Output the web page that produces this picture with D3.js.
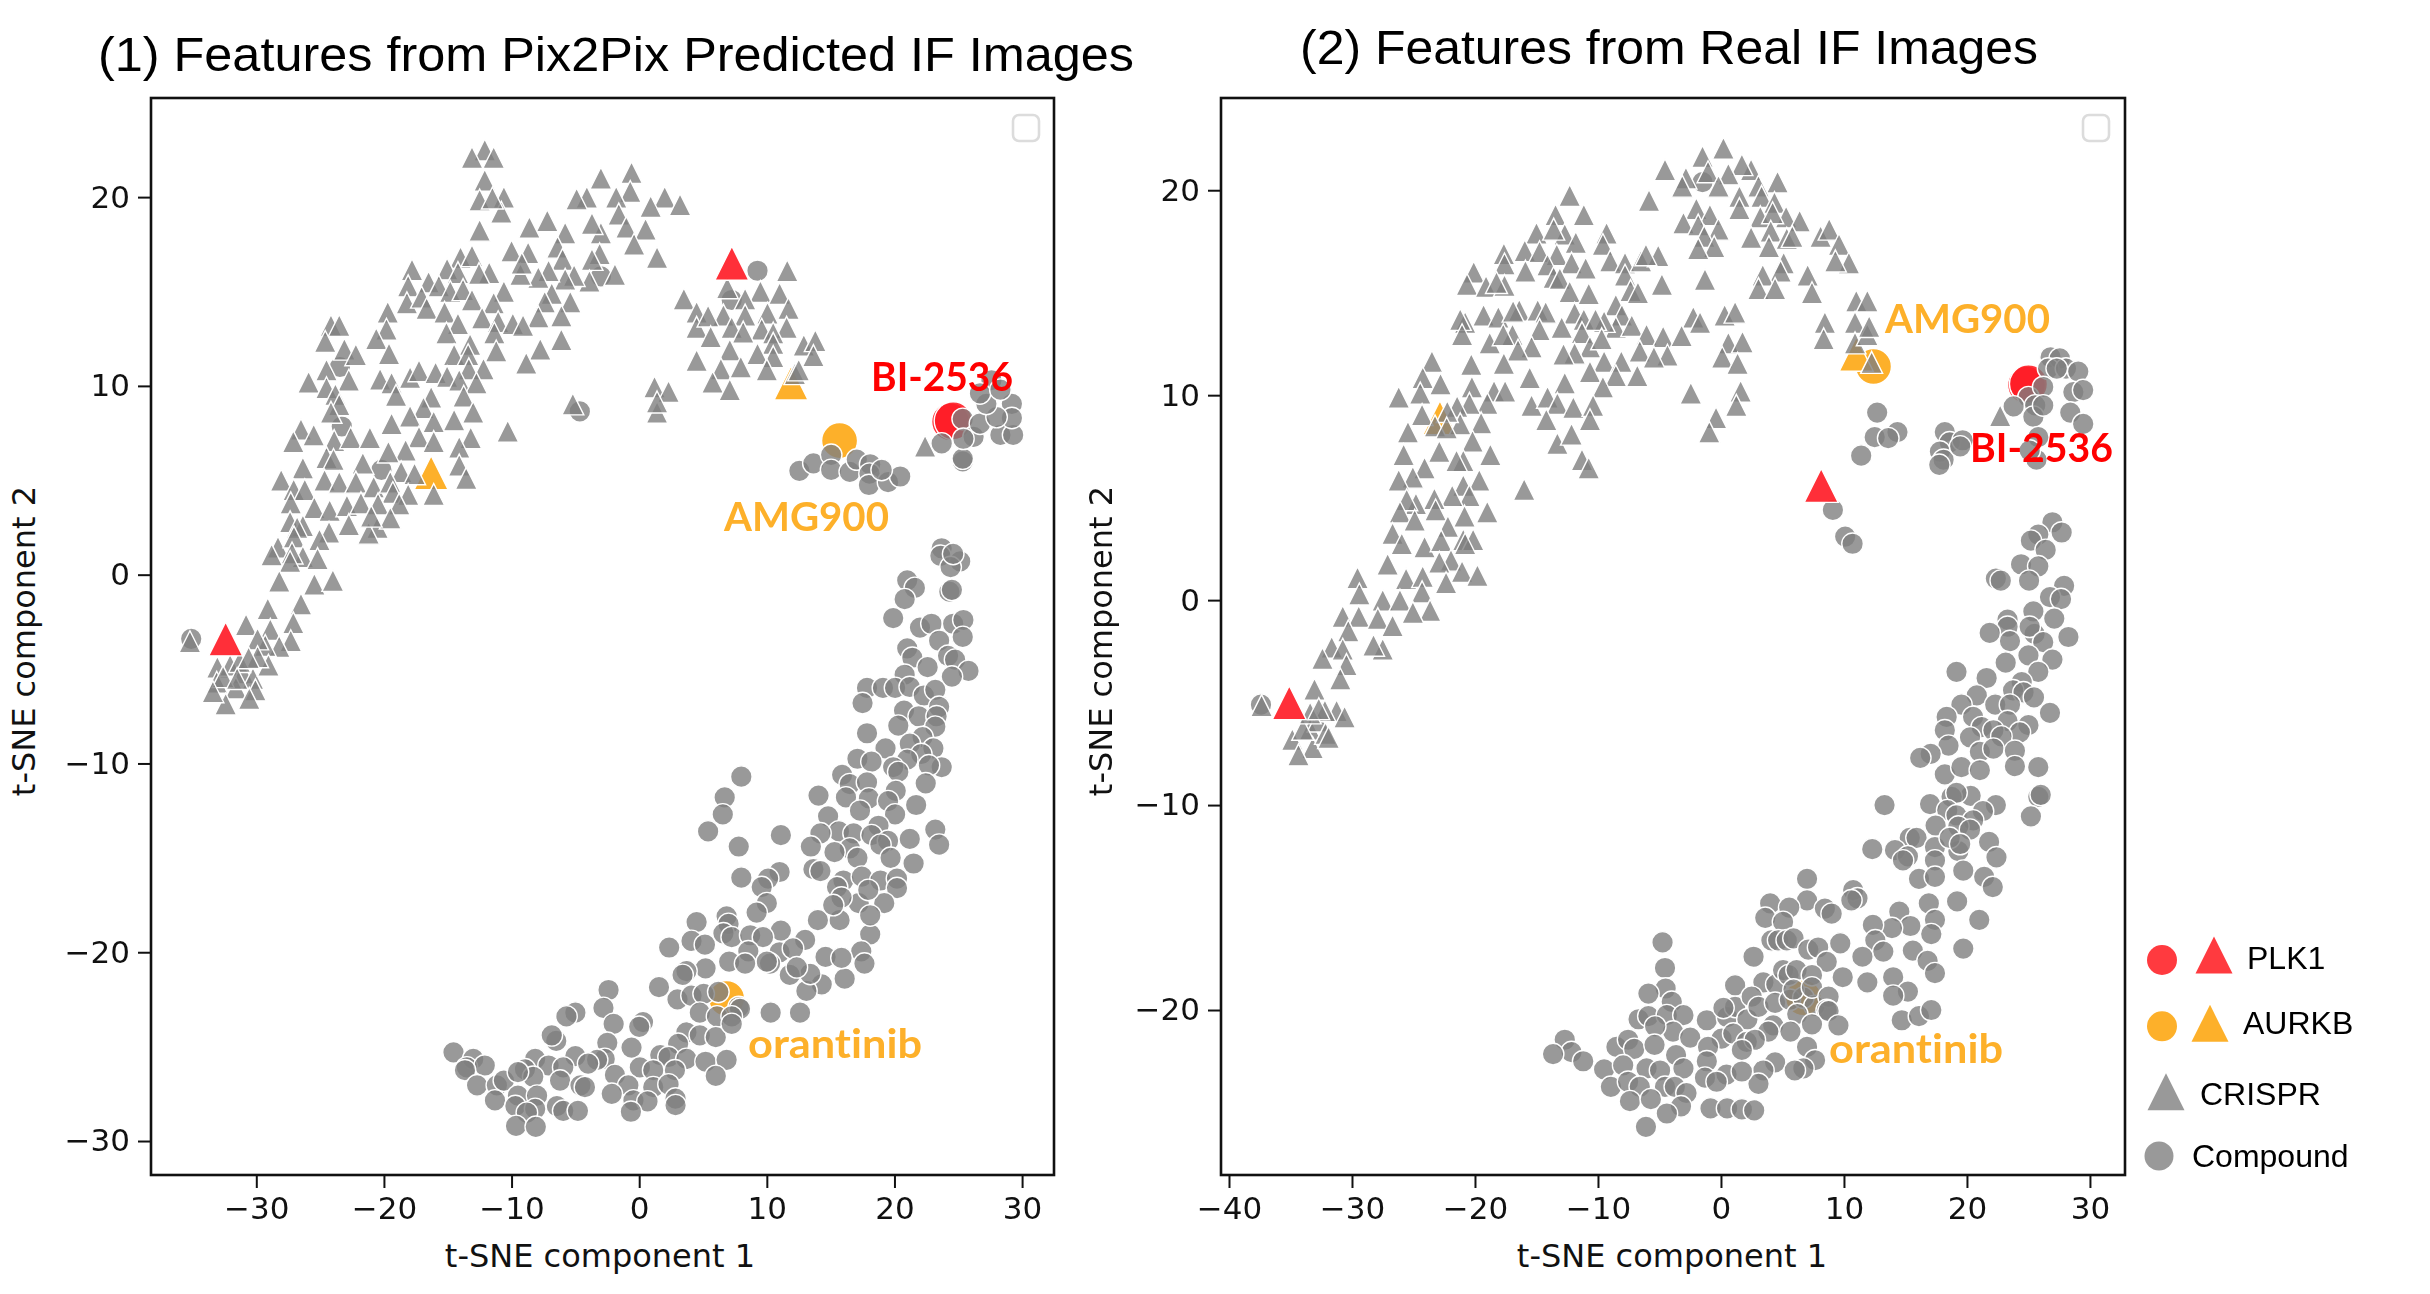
<!DOCTYPE html>
<html>
<head>
<meta charset="utf-8">
<script src="https://d3js.org/d3.v7.min.js"></script>
<style>
  html, body { margin: 0; padding: 0; background: #fff; }
  svg { display: block; }
  .tick text { font-family: "DejaVu Sans"; font-size: 31px; fill: #111; }
  .axis-label { font-family: "DejaVu Sans"; font-size: 32px; fill: #111; }
  .title { font-family: "Liberation Sans"; font-size: 48px; fill: #000; }
  .note { font-family: Lato, "Open Sans"; font-weight: 700; font-size: 40px; font-variant-ligatures: none; }
  .key { font-family: "Liberation Sans"; font-size: 32px; fill: #000; }
</style>
</head>
<body>
<svg id="chart" width="2430" height="1294"></svg>
<script>
// (1) predicted IF images
const predCrispr = [[-12.1,22.5],[-13.1,22.1],[-11.4,22.1],[-12.1,20.9],[-12.5,19.85],[-10.6,20.0],[-10.8,19.2],[-12.5,18.25],[-11.5,19.95],
[-3.0,21.0],[-0.6,21.3],[-4.1,20.0],[-4.9,19.9],[-0.7,20.3],[-1.8,20.0],[2.0,20.0],[3.2,19.6],[0.9,19.5],[-1.6,19.1],[-1.0,18.4],[0.5,18.3],[-3.0,18.1],[-3.7,18.6],[-5.8,18.1],[-7.2,18.75],[-8.6,18.4],[-6.4,17.35],[-0.4,17.5],[-3.1,17.0],[1.4,16.8],[-3.7,16.7],[-6.0,16.7],[-10.0,17.15],[-8.7,17.05],[-1.9,15.9],[-3.9,15.55],[-5.1,15.85],[-5.8,15.65],[-7.1,16.1],[-7.9,15.75],[-9.3,15.9],[-9.2,16.5],
[-17.8,16.15],[-18.1,15.3],[-14.0,16.8],[-13.1,16.9],[-15.05,16.2],[-14.2,16.0],[-11.75,16.0],[-12.55,15.95],[-16.5,15.5],[-15.7,15.3],[-14.8,15.0],[-13.8,15.1],[-10.6,15.0],[-6.85,14.9],[-5.4,14.45],[-7.4,14.45],[-18.2,14.4],[-17.05,14.7],[-16.65,14.1],[-15.25,13.9],[-13.1,14.55],[-11.4,14.4],[-7.9,13.65],[-6.1,13.7],[-12.3,13.6],[-14.2,13.3],[-15.1,12.8],[-19.7,13.9],[-19.8,13.0],[-20.6,12.5],[-11.05,13.4],[-11.35,12.8],[-9.9,13.3],[-9.1,13.2],[-13.25,12.2],[-14.5,11.65],[-13.4,11.65],[-11.2,11.85],[-7.75,11.95],[-6.1,12.45],[-8.85,11.2],[-19.6,11.7],[-24.15,13.2],[-23.5,13.2],[-24.6,12.35],[-23.1,11.95],[-22.2,11.65],[-12.2,10.9],[-13.35,10.9],
[-24.5,10.85],[-25.9,10.2],[-22.75,10.3],[-24.5,9.9],[-23.8,9.55],[-20.3,10.35],[-19.4,10.15],[-19.05,9.5],[-17.95,10.45],[-17.25,10.8],[-15.95,10.7],[-15.05,10.5],[-14.1,10.3],[-12.75,10.15],[-16.3,9.4],[-13.75,9.45],[-16.9,8.85],[-13.0,8.6],[-14.5,8.2],[-23.5,9.0],[-24.15,8.6],[-17.95,8.4],[-16.1,8.1],[-19.4,8.0],[-26.5,7.7],[-25.5,7.4],[-27.1,7.05],[-23.9,7.1],[-22.6,7.25],[-21.1,7.25],[-17.25,7.3],[-16.1,7.05],[-13.2,7.25],[-10.3,7.6],[-14.1,6.75],[-18.3,6.6],[-19.65,6.5],[-24.5,6.2],[-23.95,6.1],[-26.35,5.65],[-21.65,5.9],[-14.1,5.8],[-13.55,5.1],[-18.65,5.45],[-28.05,5.0],[-17.6,5.35],[-27.07,4.5],[-26.2,4.5],[-24.65,5.0],[-23.5,4.9],[-22.2,4.9],[-20.8,4.65],[-19.5,4.9],[-19.3,4.35],[-18.1,4.25],[-16.1,4.25],[-27.3,3.8],[-25.45,3.55],[-24.25,3.4],[-22.9,3.65],[-21.8,3.8],[-20.46,3.75],[-18.8,3.75],[-27.35,2.8],[-26.35,2.6],[-26.8,2.5],[-22.75,2.65],[-24.3,2.25],[-20.5,2.5],[-21.2,2.2],[-19.5,3.0],[-21,3.1],[-28.3,1.45],[-27.05,2.0],[-25.05,1.85],[-26.35,0.95],[-25.2,0.85],[-27.2,1.15],[-28.8,1.05],[-27.35,0.7],[-28.2,-0.35],[-25.45,-0.5],[-24.0,-0.3],[-26.5,-1.55],[-29.1,-1.8],[-27.1,-2.55],[-30.8,-2.65],[-28.9,-2.9],[-27.3,-3.5],[-28.2,-3.8],[-29.3,-3.75],[-29.9,-3.4],
[-33.05,-4.9],[-32.05,-4.8],[-31.05,-5.2],[-30.26,-5.5],[-29.05,-4.8],[-33.1,-5.7],[-31.6,-6.0],[-30.07,-6.1],[-30.55,-6.55],[-32.4,-6.85],[-29.9,-4.35],[-32.6,-5.4],[-31.3,-4.6],[-30.6,-4.4],[-31.5,-5.5],[-33.4,-6.2],[-35.2,-3.55],[-5.2,9.05],[1.2,9.95],[2.3,9.7],[1.4,8.6],[1.4,9.15],
[11.6,16.1],[6.9,15.2],[9.5,15.0],[11.0,14.9],[8.3,14.6],[11.7,14.1],[6.6,13.75],[8.3,13.75],[10.05,13.85],[3.5,14.6],[4.5,13.9],[4.5,13.1],[5.4,13.7],[7.25,13.1],[9.6,13.0],[11.55,13.1],[8.15,12.85],[10.5,12.8],[5.6,12.6],[10.5,12.25],[12.9,12.15],[13.8,12.4],[7.1,11.9],[9.27,11.7],[13.65,11.6],[4.5,11.35],[10.5,11.55],[6.4,10.9],[7.96,11.0],[10.0,10.85],[12.2,10.65],[5.75,10.2],[7.1,9.8],[12.5,10.85],[22.4,6.8]];

const predCompound = [[-35.1,-3.4],[-4.65,8.65],[-20.2,5.55],[-23.3,7.85],[-23.45,11.0],[-3.0,15.8],[9.27,16.1],[7.25,14.55],
[12.55,5.5],[13.65,5.9],[15.04,6.35],[15.04,5.55],[16.5,5.45],[17.05,6.1],[18.1,5.85],[18.05,5.35],[18.0,4.75],[19.5,4.9],[20.45,5.2],[19.0,5.55],[23.7,6.95],[25.35,6.0],[25.35,6.15],[25.35,8.25],[26.2,7.3],[26.7,8.0],[28.3,7.4],[29.3,7.4],[29.2,9.05],[29.2,8.3],[28.0,8.35],[27.2,9.05],[27.6,10.3],[26.7,9.6],[28.3,9.8],[25.4,7.2],
[23.7,1.4],[23.6,1.0],[25.15,0.7],[24.4,0.4],[24.6,1.1],[24.3,-0.9],[24.5,-0.8],[21.0,-0.3],[21.6,-0.7],[20.8,-1.3],[19.9,-2.3],[22.0,-2.8],[22.9,-2.6],[24.6,-2.6],[25.4,-2.4],[25.35,-3.3],[23.5,-3.5],[21.0,-3.9],[21.4,-4.4],[24.2,-4.3],[24.75,-4.5],[22.6,-4.9],[25.8,-5.1],[24.5,-5.4],[20.8,-5.3],[17.85,-6.0],[19.1,-6.0],[20.05,-6.0],[21.2,-5.95],[22.3,-6.4],[23.2,-6.1],[17.5,-6.8],[23.5,-7.0],[20.75,-7.2],[21.9,-7.5],[23.3,-7.5],[20.3,-8.0],[23.2,-8.05],[17.85,-8.4],[22.2,-8.6],[21.2,-8.95],[23.05,-9.2],[19.3,-9.2],[17.1,-9.75],[18.2,-9.9],[22.1,-9.5],[21.0,-9.8],[19.9,-10.2],[23.7,-10.2],[22.7,-10.1],[20.3,-10.45],[15.9,-10.6],[16.5,-11.1],[17.85,-11.0],[22.45,-11.05],[20.1,-11.45],[16.2,-11.8],[14.05,-11.7],[18.0,-11.85],[19.5,-12.0],[21.7,-12.2],[17.3,-12.5],[20.05,-12.7],[14.8,-12.8],[18.75,-13.3],[23.2,-13.5],[15.65,-13.6],[14.2,-13.7],[16.8,-13.7],[18.2,-13.8],[19.5,-14.1],[21.2,-14.0],[23.5,-14.3],[13.45,-14.4],[16.5,-14.5],[18.9,-14.3],[15.3,-14.7],[17.1,-15.0],[19.7,-15.0],[21.5,-15.3],[13.65,-15.6],[14.2,-15.7],[16.0,-16.2],[17.45,-16.0],[18.9,-16.2],[20.2,-16.1],[15.5,-16.55],[20.2,-16.6],[8.0,-10.7],[6.7,-11.8],[6.55,-12.7],[5.4,-13.6],[7.8,-14.4],[11.1,-13.8],[8.0,-16.05],[11.0,-15.75],[10.1,-16.1],[9.6,-16.55],
[18.1,-19.05],[19.2,-17.4],[17.2,-17.4],[15.7,-18.3],[14.0,-18.3],[18.1,-18.05],[15.85,-17.1],[15.2,-17.5],[17.4,-19.95],[17.65,-20.6],[16.1,-21.4],[14.6,-20.25],[14.3,-21.7],[13.1,-22.05],[15.85,-20.3],[13,-19.35],[13.4,-21.15],[17.95,-16.7],
[10.0,-17.4],[9.2,-17.9],[4.5,-18.4],[6.85,-18.1],[7.0,-18.5],[4.1,-19.4],[5.15,-19.6],[2.35,-19.75],[6.6,-19.0],[7.25,-19.2],[8.7,-19.1],[11.1,-18.85],[9.7,-19.2],[8.55,-19.95],[11.0,-20.0],[12.05,-19.8],[10.25,-20.6],[10.0,-20.5],[7.05,-20.5],[8.3,-20.6],[5.2,-20.85],[3.7,-21.0],[3.4,-21.2],[11.8,-21.2],[12.35,-20.8],[1.55,-21.85],[3.0,-22.5],[4.1,-22.3],[5.05,-22.2],[6.2,-22.1],[7.8,-22.9],[7.9,-23.0],[-2.4,-22.0],[-2.8,-22.95],[-5.0,-23.2],[-5.7,-23.4],[4.75,-23.2],[6.1,-23.4],[7.25,-23.4],[10.3,-23.2],[12.6,-23.2],[-2.0,-23.8],[0.3,-23.7],[0.0,-23.95],[3.7,-24.25],[4.75,-24.4],[6.0,-24.5],[7.25,-23.8],[-6.5,-24.7],[-6.85,-24.4],[3.05,-24.85],[-2.5,-24.8],[-5.0,-25.5],[-0.6,-25.05],[-2.7,-25.65],[-3.3,-25.7],[-4.0,-25.9],[1.65,-25.45],[2.3,-25.55],[3.7,-25.65],[5.2,-25.8],[6.85,-25.7],[-14.55,-25.3],[-13.0,-25.65],[-13.5,-26.1],[-12.1,-26.0],[-13.65,-26.25],[-12.7,-27.05],[-11.15,-27.05],[-10.6,-26.8],[-8.15,-25.65],[-7.1,-26.0],[-5.95,-26.1],[-8.95,-26.2],[-8.3,-26.6],[-9.5,-26.35],[-6.2,-26.8],[-4.6,-27.05],[-4.25,-27.15],[0.05,-26.1],[1.1,-26.25],[2.8,-26.25],[-1.9,-26.5],[-0.85,-27.05],[1.1,-27.15],[2.3,-27.0],[-2.15,-27.5],[-9.5,-27.6],[-8.0,-27.6],[-11.3,-27.85],[-9.7,-28.15],[-6.45,-28.15],[-5.95,-28.4],[-4.8,-28.4],[-8.15,-28.3],[-8.8,-28.5],[-0.45,-27.85],[0.65,-27.9],[2.85,-27.75],[2.85,-28.1],[-0.65,-28.45],[-9.65,-29.2],[-8.1,-29.25],[6.0,-26.55]];

const predPlk1Tri = [[-32.4,-3.4],[7.26,16.5]];
const predPlk1Cpd = [[24.4,8.1],[24.6,8.15]];
const predAurkbTri = [[-16.3,5.4],[11.9,10.15]];
const predAurkbCpd = [[15.7,7.1],[6.85,-22.45]];

// (2) real IF images
const realCrispr = [[0.2,22.05],[-1.5,21.65],[-4.55,21.0],[2.45,21.0],[1.7,21.25],[-2.85,20.6],[-3.15,20.2],[4.6,20.4],[0.6,20.8],[-1.05,20.9],[-0.2,20.2],[3.05,20.2],[1.5,19.7],[-12.3,19.75],[-5.85,19.5],[3.3,19.7],[-2.0,19.1],[-0.9,18.8],[4.35,19.4],[1.5,19.1],[3.2,18.7],[5.3,18.7],[4.2,18.9],[-13.45,18.8],[-11.15,18.8],[6.4,18.5],[-3.05,18.4],[-0.2,18.1],[-1.85,18.3],[4.05,18.0],[2.45,17.7],[5.35,17.65],[8.1,17.75],[8.8,18.1],[9.6,17.35],[-1.35,17.75],[-0.55,17.25],[-1.85,17.15],[3.9,17.25],[5.8,17.75],[-15.0,17.9],[-12.7,17.85],[-9.3,17.9],[-13.6,18.1],[-11.8,17.45],[-9.6,17.35],[-15.95,17.05],[-14.75,17.0],[-17.65,16.9],[-17.6,16.4],[-13.35,16.85],[-12.15,16.45],[-11.0,16.2],[-9.0,16.55],[-7.8,16.45],[-6.5,16.55],[-5.1,16.8],[-6.1,16.85],[-15.9,16.05],[-14.1,16.35],[-13.6,15.75],[-13.1,15.7],[-20.1,16.0],[-20.65,15.4],[-19.1,15.3],[-17.6,15.35],[-18.25,15.5],[-7.8,15.85],[-7.35,15.1],[-6.75,15.0],[-4.8,15.4],[-1.3,15.65],[5.1,16.45],[4.85,16.05],[3.4,15.85],[7.05,15.85],[3.05,15.2],[4.4,15.2],[7.4,15.0],[10.4,16.45],[9.3,16.55],[-12.3,15.05],[-10.75,14.95],
[11.0,14.6],[11.9,14.6],[10.9,13.55],[8.45,13.55],[8.35,12.75],[10.9,12.55],[11.9,12.95],[12.05,13.35],[12.25,11.6],[22.7,9.0],
[-8.55,14.4],[-11.9,14.0],[-19.3,13.9],[-18.1,13.8],[-16.4,14.15],[-16.9,14.1],[-14.9,14.15],[-14.25,14.05],[-20.8,13.55],[-21.2,13.7],[-21.05,12.95],[-14.75,13.2],[-12.95,13.3],[-11.15,13.7],[-2.25,13.8],[-1.7,13.55],[0.3,13.9],[1.15,14.05],[-8.05,13.9],[-8.55,13.3],[-9.5,13.6],[-10.2,13.7],[-7.25,13.4],[-11.3,13.05],[-10.65,12.35],[-9.7,12.75],[-6.05,12.95],[-4.7,12.85],[-3.2,12.9],[-18.8,12.55],[-16.95,12.95],[-17.7,12.95],[-15.4,12.35],[-16.5,12.2],[-11.9,12.05],[-12.8,12.0],[0.6,12.55],[1.75,12.6],[-6.6,12.15],[-4.35,11.95],[-5.45,11.85],[0.1,11.85],[1.35,11.55],[-20.3,11.5],[-17.65,11.55],[-9.5,11.65],[-8.1,11.65],[-10.65,11.15],[-8.55,10.95],[-6.8,10.95],[-23.5,11.65],[-24.25,10.85],[-22.8,10.55],[-15.55,10.85],[-12.7,10.6],[-9.6,10.4],[-20.25,10.4],[-18.45,10.2],[-17.55,10.2],[-24.45,10.1],[-26.2,9.9],[-19.0,9.6],[-20.45,9.6],[-2.45,10.1],[1.6,10.2],[1.25,9.5],[-15.4,9.5],[-14.1,9.9],[-13.3,9.6],[-12.0,9.4],[-10.4,9.5],[-14.2,8.8],[-10.65,8.8],[-0.4,8.9],[-0.95,8.2],[-21.45,9.45],[-24.3,9.05],[-19.5,8.65],[-21.2,8.6],[-22.25,9.2],[-23.25,8.5],[-22.3,8.4],
[-25.45,8.2],[-20.2,7.75],[-22.9,7.25],[-13.3,7.65],[-12.15,8.1],[-25.8,7.1],[-18.75,7.1],[-20.95,6.8],[-21.5,6.8],[-11.3,6.85],[-10.75,6.45],[-24.1,6.45],[-25.05,6.0],[-26.2,5.85],[-19.65,5.85],[-16.0,5.4],[-20.95,5.6],[-20.45,5.1],[-21.85,5.1],[-23.3,4.95],[-24.8,4.7],[-25.55,4.9],[-23.2,4.4],[-19.0,4.3],[-20.85,4.1],[-26.1,4.3],[-24.9,3.9],[-26.7,3.25],[-25.95,2.75],[-24.1,2.6],[-22.2,3.6],[-22.75,2.9],[-20.95,2.95],[-20.15,2.95],[-20.8,2.75],[-27.1,1.75],[-21.95,1.95],[-22.9,1.85],[-21.05,1.4],[-19.8,1.2],[-22.35,0.85],[-29.55,1.1],[-25.6,1.05],[-24.25,1.15],[-29.4,0.3],[-24.3,0.4],[-27.5,0],[-26.1,0],[-30.75,-0.8],[-29.45,-0.8],[-23.65,-0.5],[-25.05,-0.6],[-27.9,-0.9],[-26.7,-1.25],[-30.3,-1.5],[-31.65,-2.3],[-30.75,-2.4],[-32.4,-2.85],[-27.5,-2.4],[-28.25,-2.2],[-30.45,-3.15],[-30.95,-3.85],[-33.05,-4.35],[-31.25,-5.4],[-30.6,-5.7],[-33.4,-6.3],[-32.75,-5.9],[-34.85,-6.8],[-33.2,-7.2],[-32.15,-6.5],[-34.35,-7.55],[-34.0,-6.3],[-32.2,-5.4],[-31.9,-6.7],[-33.4,-5.5],[-32.7,-5.3],[-37.35,-5.15]];

const realCompound = [[-1.5,20.4],[-37.4,-5.1],[25.0,9.9],
[12.7,9.15],[12.5,7.95],[14.35,8.2],[11.4,7.05],[13.6,7.9],[18.2,8.2],[18.6,7.7],[19.65,7.8],[17.8,7.25],[18.1,6.85],[17.75,6.6],[19.45,7.5],[26.8,11.85],[27.55,11.8],[26.6,11.3],[28.05,11.3],[27.3,11.3],[29.05,11.15],[28.65,10.15],[29.45,10.25],[26.2,10.4],[23.8,9.45],[25.55,9.5],[25.4,8.95],[26.2,9.5],[28.4,9.15],[29.45,8.6],[25.8,7.95],[25.65,6.85],[25.1,7.3],[9.1,4.4],[10.1,3.1],[10.7,2.75],
[26.95,3.8],[27.7,3.3],[25.8,3.2],[25.2,2.9],[26.4,2.45],[24.4,1.75],[25.8,1.65],[25.05,0.95],[22.35,1.05],[22.75,0.95],[27.9,0.7],[26.75,0.15],[27.65,0.05],[25.4,-0.55],[27.1,-0.9],[23.3,-0.95],[23.3,-1.3],[21.85,-1.6],[23.5,-2.0],[25.5,-1.65],[25.1,-1.3],[26.2,-2.05],[28.25,-1.8],[25.0,-2.7],[23.15,-3.05],[26.95,-2.9],[25.8,-3.5],[19.15,-3.5],[21.6,-3.8],[24.45,-4.0],[23.75,-4.4],[24.6,-4.5],[25.45,-4.75],[20.8,-4.65],[19.55,-5.1],[22.3,-5.1],[23.5,-5.1],[26.75,-5.5],[18.35,-5.7],[20.5,-5.7],[23.3,-5.9],[25.0,-6.1],[21.2,-6.2],[18.2,-6.35],[24.3,-6.45],[20.25,-6.7],[22.15,-6.35],[22.8,-6.65],[18.5,-7.1],[17.05,-7.5],[16.2,-7.7],[21.05,-7.4],[22.15,-7.25],[23.9,-7.35],[23.9,-8.1],[25.8,-8.15],[18.2,-8.5],[19.55,-8.15],[21.05,-8.3],[25.8,-9.6],[26.0,-9.5],[25.2,-10.55],[20.3,-9.55],[17.0,-9.95],[18.75,-9.6],[19.15,-9.4],[22.35,-10.0],[21.3,-10.3],[18.4,-10.25],[19.15,-10.5],[20.5,-10.75],[17.45,-11.0],[19.3,-11.05],[20.25,-11.2],[15.35,-11.6],[15.9,-11.6],[12.3,-12.15],[14.15,-12.2],[13.3,-10.0],[21.8,-11.8],[22.4,-12.55],[17.4,-12.05],[19.3,-12.25],[18.6,-11.6],[19.45,-11.9],[15.2,-12.5],[14.8,-12.7],[17.4,-12.7],
[16.1,-13.6],[17.4,-13.5],[19.7,-13.2],[21.4,-13.5],[22.1,-14.0],[16.9,-14.8],[19.2,-14.7],[21.0,-15.6],[14.5,-15.2],[17.4,-15.6],[15.4,-15.9],[13.9,-16.0],[17.1,-16.3],[19.7,-17.0],[15.6,-17.1],[16.8,-17.6],[17.4,-18.2],[14,-18.4],[15.2,-19.1],[14,-19.3],[14.7,-20.5],[16.1,-20.3],[17.1,-20.0],
[7.0,-13.6],[7.0,-14.65],[10.75,-14.15],[11.1,-14.55],[10.6,-14.65],[8.45,-15.05],[9.0,-15.3],[4.0,-14.8],[5.55,-15.0],[3.6,-15.5],[5.05,-15.7],[2.65,-17.4],[4.1,-16.6],[4.65,-16.6],[5.35,-16.6],[5.9,-16.5],[7.1,-17.05],[7.9,-16.95],[9.7,-16.75],[8.6,-17.65],[12.35,-15.85],[12.55,-16.6],[13.2,-17.15],[11.5,-17.4],[9.9,-18.4],[11.9,-18.65],[1.15,-18.8],[3.45,-18.65],[4.5,-18.75],[5.05,-18.05],[5.5,-18.3],[6.15,-18.05],[7.4,-18.3],[-4.75,-16.7],[-4.55,-17.95],[-4.5,-18.95],[-5.9,-19.2],[-4.0,-19.6],[-6.7,-20.45],[-5.9,-20.3],[-4.4,-20.25],[-3.05,-20.25],[-1.15,-20.5],[0.5,-20.35],[1.15,-19.85],[0.2,-19.9],[2.15,-20.45],[2.5,-19.35],[3.05,-19.85],[4.4,-19.65],[5.6,-19.5],[6.7,-19.4],[5.9,-19.0],[7.6,-19.8],[6.2,-20.2],[7.4,-18.9],[8.75,-19.35],[8.6,-20.0],[8.75,-20.05],[7.4,-20.7],[9.55,-20.75],[4.25,-20.75],[5.65,-21.05],[3.85,-21.05],[-3.9,-21.05],[-2.5,-21.35],[-5.35,-20.8],[0.05,-21.4],[1.0,-21.15],[2.1,-21.55],[2.75,-21.45],[1.7,-21.95],[7.0,-21.8],[7.65,-22.45],[4.4,-22.55],[3.45,-22.95],[3.05,-23.6],[6.7,-22.85],[6.0,-22.95],[-1.05,-21.8],[-1.15,-22.5],[0.45,-23.15],[1.7,-23.0],[-1.3,-23.3],[-0.35,-23.5],[-12.7,-21.45],[-12.15,-22.05],[-13.65,-22.15],[-11.2,-22.5],[-8.5,-21.8],[-7.55,-21.45],[-7.05,-21.9],[-5.4,-21.7],[-3.65,-22.2],[-3.05,-22.85],[-9.5,-22.9],[-7.95,-22.7],[-6.05,-22.85],[-4.95,-22.95],[-8.95,-23.75],[-7.55,-23.5],[-6.6,-23.75],[-4.55,-23.75],[-3.75,-23.75],[-2.8,-24.05],[-7.4,-24.45],[-5.7,-24.35],[-3.25,-24.7],[-4.4,-25.05],[-6.1,-25.7],[-0.85,-24.8],[0.5,-24.8],[1.7,-24.85],[2.7,-24.9]];

const realPlk1Tri = [[-35.1,-5.0],[8.15,5.6]];
const realPlk1Cpd = [[24.85,10.5],[25.0,10.55]];
const realAurkbTri = [[-22.85,8.9],[11.0,12.0]];
const realAurkbCpd = [[12.4,11.4],[6.7,-19.4]];

const predXTicks = [-30,-20,-10,0,10,20,30];
const predYTicks = [-30,-20,-10,0,10,20];
const realXTicks = [-40,-30,-20,-10,0,10,20,30];
const realYTicks = [-20,-10,0,10,20];

const keyNames = ["PLK1","AURKB","CRISPR","Compound"];

const red = "#ff1e26", orange = "#fdb02a", gray = "#808080";

const svg = d3.select("#chart");

const defs = svg.append("defs");
defs.append("filter").attr("id", "soft")
    .append("feGaussianBlur").attr("stdDeviation", 0.7);

// matplotlib's "^" marker is as tall as it is wide
const wideTriangle = {
  draw(context, size) {
    const s = Math.sqrt(size);
    context.moveTo(0, -s / 2);
    context.lineTo(s / 2, s / 2);
    context.lineTo(-s / 2, s / 2);
    context.closePath();
  }
};
const triPath = w => d3.symbol().type(wideTriangle).size(w * w)();

function panel(cfg) {
  const x = d3.scaleLinear().domain(cfg.xDomain).range([cfg.left, cfg.right]);
  const y = d3.scaleLinear().domain(cfg.yDomain).range([cfg.bottom, cfg.top]);

  svg.append("rect")
      .attr("x", cfg.left).attr("y", cfg.top)
      .attr("width", cfg.right - cfg.left).attr("height", cfg.bottom - cfg.top)
      .attr("fill", "#fff");

  const marks = svg.append("g").attr("filter", "url(#soft)");

  const circles = (data, r, fill, opacity) => marks.append("g").selectAll("circle")
      .data(data).join("circle")
      .attr("cx", d => x(d[0])).attr("cy", d => y(d[1])).attr("r", r)
      .attr("fill", fill).attr("fill-opacity", opacity)
      .attr("stroke", "#fff").attr("stroke-width", 1.4);

  const triangles = (data, w, fill, opacity) => marks.append("g").selectAll("path")
      .data(data).join("path")
      .attr("d", triPath(w))
      .attr("transform", d => `translate(${x(d[0])},${y(d[1])})`)
      .attr("fill", fill).attr("fill-opacity", opacity)
      .attr("stroke", "#fff").attr("stroke-width", 1.4).attr("stroke-linejoin", "miter");

  circles(cfg.aurkbCpd, 18, orange, 1);
  triangles(cfg.aurkbTri, 34, orange, 1);
  circles(cfg.plk1Cpd, 19, red, 0.9);
  circles(cfg.compound, 10.8, gray, 0.8);
  triangles(cfg.crispr, 22, gray, 0.8);
  triangles(cfg.plk1Tri, 34, red, 0.92);

  // frame
  svg.append("rect")
      .attr("x", cfg.left).attr("y", cfg.top)
      .attr("width", cfg.right - cfg.left).attr("height", cfg.bottom - cfg.top)
      .attr("fill", "none").attr("stroke", "#111").attr("stroke-width", 2.6);

  // the empty legend box seaborn left behind
  svg.append("rect")
      .attr("x", cfg.boxX).attr("y", 115).attr("width", 26).attr("height", 26).attr("rx", 6)
      .attr("fill", "#fff").attr("stroke", "#dcdcdc").attr("stroke-width", 2.6);

  const xAxis = svg.append("g")
      .attr("transform", `translate(0,${cfg.bottom})`)
      .call(d3.axisBottom(x).tickValues(cfg.xTicks).tickSizeOuter(0).tickSize(13).tickPadding(9));
  const yAxis = svg.append("g")
      .attr("transform", `translate(${cfg.left},0)`)
      .call(d3.axisLeft(y).tickValues(cfg.yTicks).tickSizeOuter(0).tickSize(13).tickPadding(8));
  [xAxis, yAxis].forEach(a => {
    a.select(".domain").remove();
    a.selectAll(".tick line").attr("stroke", "#111").attr("stroke-width", 2);
    a.attr("font-family", null).attr("font-size", null);
  });

  svg.append("text").attr("class", "axis-label")
      .attr("x", cfg.xLabelX).attr("y", 1267).attr("text-anchor", "middle")
      .text("t-SNE component 1");
  svg.append("text").attr("class", "axis-label")
      .attr("transform", `translate(${cfg.yLabelX},641) rotate(-90)`)
      .attr("text-anchor", "middle")
      .text("t-SNE component 2");

  svg.append("text").attr("class", "title")
      .attr("x", cfg.titleX).attr("y", cfg.titleY)
      .attr("textLength", cfg.titleW).attr("lengthAdjust", "spacingAndGlyphs")
      .text(cfg.title);

  cfg.notes.forEach(n => {
    svg.append("text").attr("class", "note")
        .attr("x", n.x).attr("y", n.y).attr("fill", n.color)
        .attr("textLength", n.w).attr("lengthAdjust", "spacingAndGlyphs")
        .text(n.text);
  });
}

panel({
  title: "(1) Features from Pix2Pix Predicted IF Images",
  titleX: 98, titleY: 71, titleW: 1036,
  left: 151, right: 1054, top: 98, bottom: 1175,
  xDomain: [-38.25, 32.5], yDomain: [-31.8, 25.25],
  xTicks: predXTicks, yTicks: predYTicks,
  xLabelX: 600, yLabelX: 35, boxX: 1013,
  crispr: predCrispr, compound: predCompound,
  plk1Tri: predPlk1Tri, plk1Cpd: predPlk1Cpd, aurkbTri: predAurkbTri, aurkbCpd: predAurkbCpd,
  notes: [
    {text: "BI-2536", x: 871, y: 391, w: 142, color: "#ff0000"},
    {text: "AMG900", x: 724, y: 531, w: 165, color: orange},
    {text: "orantinib", x: 748, y: 1058, w: 174, color: orange}
  ]
});

panel({
  title: "(2) Features from Real IF Images",
  titleX: 1300, titleY: 64, titleW: 738,
  left: 1221, right: 2125, top: 98, bottom: 1175,
  xDomain: [-40.65, 32.85], yDomain: [-28.05, 24.5],
  xTicks: realXTicks, yTicks: realYTicks,
  xLabelX: 1672, yLabelX: 1112, boxX: 2083,
  crispr: realCrispr, compound: realCompound,
  plk1Tri: realPlk1Tri, plk1Cpd: realPlk1Cpd, aurkbTri: realAurkbTri, aurkbCpd: realAurkbCpd,
  notes: [
    {text: "AMG900", x: 1885, y: 333, w: 165, color: orange},
    {text: "BI-2536", x: 1970, y: 462, w: 143, color: "#ff0000"},
    {text: "orantinib", x: 1829, y: 1063, w: 174, color: orange}
  ]
});

// hand-made key at the right
const keyY = d3.scalePoint().domain(keyNames).range([960, 1156]);
const key = svg.append("g");
const keyGray = "#999";
key.append("circle").attr("cx", 2162).attr("cy", keyY("PLK1")).attr("r", 15).attr("fill", "#ff3a3f");
key.append("path").attr("d", triPath(37)).attr("transform", `translate(2214,${keyY("PLK1") - 5})`).attr("fill", "#ff3a3f");
key.append("circle").attr("cx", 2162).attr("cy", keyY("AURKB") + 1).attr("r", 15).attr("fill", orange);
key.append("path").attr("d", triPath(37)).attr("transform", `translate(2210,${keyY("AURKB") - 2})`).attr("fill", orange);
key.append("path").attr("d", triPath(37)).attr("transform", `translate(2166,${keyY("CRISPR") + 1})`).attr("fill", keyGray);
key.append("circle").attr("cx", 2159).attr("cy", keyY("Compound")).attr("r", 14.5).attr("fill", keyGray);
const keyLabelX = {PLK1: 2247, AURKB: 2243, CRISPR: 2200, Compound: 2192};
const keyLabelY = {PLK1: 969, AURKB: 1034, CRISPR: 1105, Compound: 1167};
key.selectAll("text").data(keyNames).join("text")
    .attr("class", "key")
    .attr("x", d => keyLabelX[d]).attr("y", d => keyLabelY[d])
    .text(d => d);
</script>
</body>
</html>
